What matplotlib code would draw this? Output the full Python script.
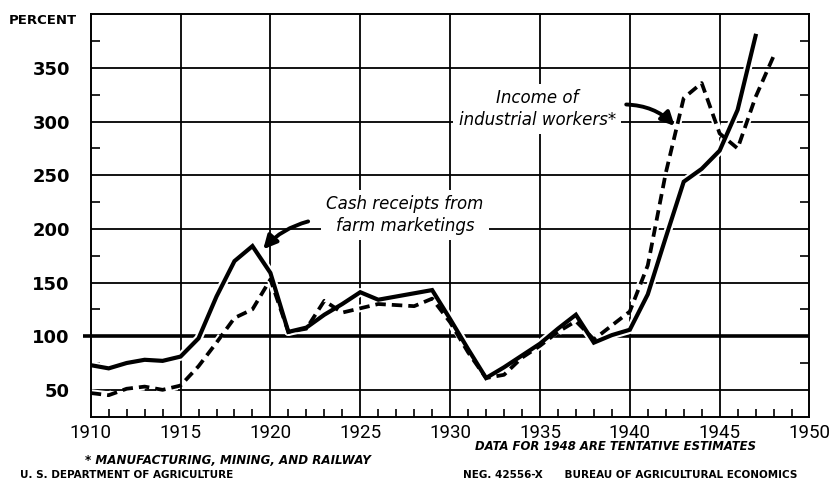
import matplotlib

matplotlib.use("Agg")
import matplotlib.pyplot as plt
from matplotlib.ticker import MultipleLocator, FixedLocator

# cash receipts from farm marketings, percent (1910-1947)
farm_years = list(range(1910, 1948))
farm_receipts = [73, 70, 75, 78, 77, 81, 98, 137, 170, 184,
                 159, 104, 108, 120, 130, 141, 134, 137, 140, 143,
                 116, 88, 61, 71, 82, 93, 107, 120, 94, 101,
                 106, 139, 192, 244, 256, 273, 311, 380]

# income of industrial workers, percent (1910-1948)
worker_years = list(range(1910, 1949))
worker_income = [47, 45, 51, 53, 50, 54, 72, 94, 117, 125,
                 153, 104, 107, 133, 122, 126, 130, 129, 128, 135,
                 113, 85, 61, 64, 80, 91, 104, 114, 97, 110,
                 123, 166, 252, 322, 336, 289, 275, 323, 361]

y_major = [50, 100, 150, 200, 250, 300, 350]
x_major = [1910, 1915, 1920, 1925, 1930, 1935, 1940, 1945, 1950]

plt.rcParams["font.family"] = ["DejaVu Sans"]

fig = plt.figure(figsize=(8.3, 4.8), dpi=100)
ax = fig.add_axes([0.1093, 0.132, 0.866, 0.838])
ax.set_xlim(1910, 1950)
ax.set_ylim(25, 400)

# grid
for v in y_major:
    if v == 100:
        continue
    ax.axhline(v, color="black", lw=1.3, zorder=1)
for x in x_major[1:-1]:
    ax.axvline(x, color="black", lw=1.3, zorder=1)
ax.plot([1909.55, 1950], [100, 100], color="black", lw=2.6, zorder=1,
        clip_on=False, solid_capstyle="butt")

# white halo under both curves so the grid breaks around them
ax.plot(farm_years, farm_receipts, color="white", lw=6, zorder=2)
ax.plot(worker_years, worker_income, color="white", lw=5.5, zorder=2,
        dashes=(2.8, 1.6))
ax.plot(farm_years, farm_receipts, color="black", lw=3.0, zorder=4,
        solid_joinstyle="miter")
ax.plot(worker_years, worker_income, color="black", lw=2.7, zorder=3,
        dashes=(2.8, 1.6))

for s in ax.spines.values():
    s.set_linewidth(1.4)
    s.set_zorder(5)

ax.yaxis.set_major_locator(FixedLocator(y_major))
ax.yaxis.set_minor_locator(FixedLocator([75, 125, 175, 225, 275, 325, 375]))
ax.xaxis.set_major_locator(FixedLocator(x_major))
ax.xaxis.set_minor_locator(MultipleLocator(1))
ax.tick_params(axis="y", which="major", length=0, pad=15, labelsize=13)
ax.tick_params(axis="y", which="minor", direction="in", length=6.5, width=1.2,
               left=True, right=True)
ax.tick_params(axis="x", which="major", length=0, pad=5, labelsize=13.5)
ax.tick_params(axis="x", which="minor", direction="in", length=6, width=1.2)
for lab in ax.get_yticklabels():
    lab.set_fontweight("bold")
for lab in ax.get_xticklabels():
    lab.set_family("Roboto")

fig.text(0.010, 0.958, "PERCENT", fontsize=9.5, fontweight="bold", va="center")

box = dict(facecolor="white", edgecolor="none", pad=4)
ax.text(1927.5, 213, "Cash receipts from\nfarm marketings", ha="center",
        va="center", fontsize=12, style="oblique", linespacing=1.25,
        bbox=box, zorder=6)
ax.text(1934.85, 312, "Income of\nindustrial workers*", ha="center",
        va="center", fontsize=12, style="oblique", linespacing=1.25,
        bbox=box, zorder=6)

arrow = dict(arrowstyle="-|>,head_length=0.8,head_width=0.4", lw=2.8,
             color="black", shrinkA=0, shrinkB=0)
ax.annotate("", xy=(1919.6, 181), xytext=(1922.1, 207),
            arrowprops=dict(arrow, connectionstyle="arc3,rad=0.15"), zorder=7)
ax.annotate("", xy=(1942.5, 296), xytext=(1939.8, 316),
            arrowprops=dict(arrow, connectionstyle="arc3,rad=-0.2"), zorder=7)

fig.text(0.275, 0.041, "* MANUFACTURING, MINING, AND RAILWAY", ha="center",
         va="center", fontsize=8.6, fontweight="bold", style="oblique")
fig.text(0.024, 0.010, "U. S. DEPARTMENT OF AGRICULTURE", ha="left",
         va="center", fontsize=7.5, fontweight="bold")
fig.text(0.742, 0.069, "DATA FOR 1948 ARE TENTATIVE ESTIMATES", ha="center",
         va="center", fontsize=8.4, fontweight="bold", style="oblique")
fig.text(0.558, 0.010, "NEG. 42556-X      BUREAU OF AGRICULTURAL ECONOMICS",
         ha="left", va="center", fontsize=7.5, fontweight="bold")

fig.savefig("out.png", dpi=100)
